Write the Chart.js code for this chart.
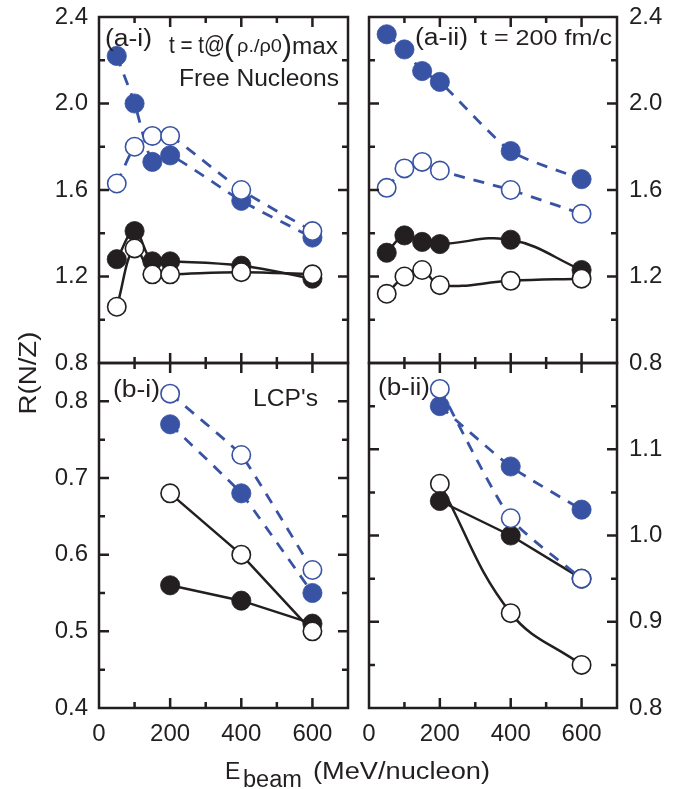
<!DOCTYPE html>
<html>
<head>
<meta charset="utf-8">
<script src="https://cdn.jsdelivr.net/npm/chart.js@4.4.1/dist/chart.umd.min.js"></script>
<style>
  html, body { margin: 0; padding: 0; background: #fff; }
  #stage { position: relative; width: 691px; height: 789px; overflow: hidden; }
  #stage canvas, #stage svg { position: absolute; left: 0; top: 0; }
  svg text { font-family: "Liberation Sans", Arial, sans-serif; fill: #231f20; }
</style>
</head>
<body>
<div id="stage">
  <canvas id="panel-ai" width="691" height="789"></canvas>
  <canvas id="panel-aii" width="691" height="789"></canvas>
  <canvas id="panel-bi" width="691" height="789"></canvas>
  <canvas id="panel-bii" width="691" height="789"></canvas>
  <svg width="691" height="789">
    <!-- panel tags -->
    <text x="105" y="46" font-size="23" textLength="47" lengthAdjust="spacingAndGlyphs">(a-i)</text>
    <text font-size="23">
      <tspan x="169" y="53" textLength="56" lengthAdjust="spacingAndGlyphs">t = t@</tspan><tspan x="224" y="56" font-size="30">(</tspan><tspan x="237" y="52" font-size="19" textLength="45" lengthAdjust="spacingAndGlyphs">ρ./ρ0</tspan><tspan x="282" y="56" font-size="30">)</tspan><tspan x="292" y="54" font-size="23" textLength="46" lengthAdjust="spacingAndGlyphs">max</tspan>
    </text>
    <text x="179" y="86" font-size="23" textLength="160" lengthAdjust="spacingAndGlyphs">Free Nucleons</text>
    <text x="415" y="45" font-size="23" textLength="53" lengthAdjust="spacingAndGlyphs">(a-ii)</text>
    <text x="480" y="45" font-size="22" textLength="132" lengthAdjust="spacingAndGlyphs">t = 200 fm/c</text>
    <text x="113" y="397" font-size="23" textLength="47" lengthAdjust="spacingAndGlyphs">(b-i)</text>
    <text x="253" y="406" font-size="23" textLength="65" lengthAdjust="spacingAndGlyphs">LCP's</text>
    <text x="378" y="395" font-size="23" textLength="52" lengthAdjust="spacingAndGlyphs">(b-ii)</text>
    <!-- axis titles -->
    <text transform="translate(36,373) rotate(-90)" text-anchor="middle" font-size="23" textLength="83" lengthAdjust="spacingAndGlyphs">R(N/Z)</text>
    <text x="225" y="779" font-size="23">E</text>
    <text x="243" y="787" font-size="23" textLength="59" lengthAdjust="spacingAndGlyphs">beam</text>
    <text x="313" y="779" font-size="23" textLength="177" lengthAdjust="spacingAndGlyphs">(MeV/nucleon)</text>
  </svg>
</div>
<script>
// beam energies, MeV/nucleon
const E_FREE = [50, 100, 150, 200, 400, 600];
const E_LCP = [200, 400, 600];

// (a-i) free nucleons at max compression
const aiBlueFilled  = [2.22, 2.00, 1.73, 1.76, 1.55, 1.38];
const aiBlueOpen    = [1.63, 1.80, 1.85, 1.85, 1.60, 1.41];
const aiBlackFilled = [1.28, 1.41, 1.27, 1.27, 1.25, 1.19];
const aiBlackOpen   = [1.06, 1.33, 1.21, 1.21, 1.22, 1.21];

// (a-ii) free nucleons at t = 200 fm/c
const aiiBlueFilled  = [2.32, 2.25, 2.15, 2.10, 1.78, 1.65];
const aiiBlueOpen    = [1.61, 1.70, 1.73, 1.69, 1.60, 1.49];
const aiiBlackFilled = [1.31, 1.39, 1.36, 1.35, 1.37, 1.23];
const aiiBlackOpen   = [1.12, 1.20, 1.23, 1.16, 1.18, 1.19];

// (b-i) LCP's
const biBlueOpen    = [0.81, 0.73, 0.58];
const biBlueFilled  = [0.77, 0.68, 0.55];
const biBlackOpen   = [0.68, 0.60, 0.50];
const biBlackFilled = [0.56, 0.54, 0.51];

// (b-ii)
const biiBlueOpen    = [1.17, 1.02, 0.95];
const biiBlueFilled  = [1.15, 1.08, 1.03];
const biiBlackOpen   = [1.06, 0.91, 0.85];
const biiBlackFilled = [1.04, 1.00, 0.95];

// axis ticks
const X_MAJOR = [0, 200, 400, 600];
const X_MINOR = [100, 300, 500];
const Y_TOP_MAJOR = [0.8, 1.2, 1.6, 2.0, 2.4];
const Y_TOP_MINOR = [1.0, 1.4, 1.8, 2.2];
const Y_BI_MAJOR = [0.4, 0.5, 0.6, 0.7, 0.8];
const Y_BI_MINOR = [0.45, 0.55, 0.65, 0.75];
const Y_BII_MAJOR = [0.8, 0.9, 1.0, 1.1, 1.2];
const Y_BII_MINOR = [0.85, 0.95, 1.05, 1.15];

const BLUE = '#3853a4';
const INK = '#231f20';
const TICK_FONT = { family: '"Liberation Sans", Arial, sans-serif', size: 24 };
const Y_AXIS_W = 60;   // room kept for y tick labels
const X_AXIS_H = 50;   // room kept for x tick labels

// frame box with inward ticks on all four sides
const frameTicks = {
    id: 'frameTicks',
    afterDraw(chart, args, opts) {
        const { ctx, chartArea: a } = chart;
        const { x, y } = chart.scales;
        ctx.save();
        ctx.strokeStyle = INK;
        ctx.lineWidth = 2.5;
        ctx.beginPath();
        const xt = (vals, len) => vals.forEach(v => {
            const px = x.getPixelForValue(v);
            if (px <= a.left + 1 || px >= a.right - 1) return;
            ctx.moveTo(px, a.bottom); ctx.lineTo(px, a.bottom - len);
            ctx.moveTo(px, a.top); ctx.lineTo(px, a.top + len);
        });
        const yt = (vals, len) => vals.forEach(v => {
            const py = y.getPixelForValue(v);
            if (py <= a.top + 1 || py >= a.bottom - 1) return;
            ctx.moveTo(a.left, py); ctx.lineTo(a.left + len, py);
            ctx.moveTo(a.right, py); ctx.lineTo(a.right - len, py);
        });
        xt(opts.xMajor, 10); xt(opts.xMinor, 6);
        yt(opts.yMajor, 10); yt(opts.yMinor, 6);
        ctx.stroke();
        ctx.strokeRect(a.left, a.top, a.right - a.left, a.bottom - a.top);
        ctx.restore();
    }
};

function series(xs, ys, kind, order, tension) {
    const blue = kind.startsWith('blue');
    const open = kind.endsWith('Open');
    const color = blue ? BLUE : INK;
    return {
        data: xs.map((x, i) => ({ x, y: ys[i] })),
        borderColor: color,
        borderWidth: blue ? 2.8 : 2.5,
        borderDash: blue ? [11, 9] : [],
        tension,
        pointRadius: open ? 9.2 : 9.6,
        pointBorderWidth: open ? 1.6 : 0.8,
        pointBackgroundColor: open ? '#fff' : color,
        pointBorderColor: color,
        order,
        clip: false
    };
}

// fixed scale boxes so the plot area lands where the layout padding says
function fixBox(size) {
    return s => {
        if (s.isHorizontal()) s.height = size; else s.width = size;
        s.paddingTop = s.paddingBottom = s.paddingLeft = s.paddingRight = 0;
    };
}

function panel(id, pad, yMin, yMax, yStep, yRight, showX, ticks, datasets, hideTop) {
    new Chart(document.getElementById(id), {
        type: 'line',
        data: { datasets },
        options: {
            responsive: false,
            devicePixelRatio: 1,
            animation: false,
            layout: { padding: pad },
            plugins: { legend: { display: false }, tooltip: { enabled: false }, frameTicks: ticks },
            scales: {
                x: {
                    type: 'linear', min: 0, max: 700,
                    grid: { display: false, drawTicks: false }, border: { display: false },
                    ticks: { display: showX, stepSize: 200, includeBounds: false, maxRotation: 0, padding: 12, color: INK, font: TICK_FONT },
                    afterFit: fixBox(showX ? X_AXIS_H : 0)
                },
                y: {
                    type: 'linear', position: yRight ? 'right' : 'left', min: yMin, max: yMax,
                    grid: { display: false, drawTicks: false }, border: { display: false },
                    ticks: {
                        stepSize: yStep, includeBounds: false, padding: yRight ? 12 : 11, color: INK, font: TICK_FONT,
                        callback: v => (hideTop && v > yMax - 1e-6) ? '' : v.toFixed(1)
                    },
                    afterFit: fixBox(Y_AXIS_W)
                }
            }
        },
        plugins: [frameTicks]
    });
}

// plot area edges: left column 99..348, right column 369..617, rows 17..363 and 363..708
const LEFT = { left: 99 - Y_AXIS_W, right: 691 - 348 };
const RIGHT = { left: 369, right: 691 - 617 - Y_AXIS_W };
const TOP = { top: 17, bottom: 789 - 363 };
const BOTTOM = { top: 363, bottom: 789 - 708 - X_AXIS_H };

panel('panel-ai', { ...LEFT, ...TOP }, 0.8, 2.4, 0.4, false, false,
    { xMajor: X_MAJOR, xMinor: X_MINOR, yMajor: Y_TOP_MAJOR, yMinor: Y_TOP_MINOR }, [
        series(E_FREE, aiBlackFilled, 'blackFilled', 3, 0.4),
        series(E_FREE, aiBlackOpen, 'blackOpen', 2, 0.4),
        series(E_FREE, aiBlueFilled, 'blueFilled', 1, 0.2),
        series(E_FREE, aiBlueOpen, 'blueOpen', 0, 0.2)
    ]);

panel('panel-aii', { ...RIGHT, ...TOP }, 0.8, 2.4, 0.4, true, false,
    { xMajor: X_MAJOR, xMinor: X_MINOR, yMajor: Y_TOP_MAJOR, yMinor: Y_TOP_MINOR }, [
        series(E_FREE, aiiBlackFilled, 'blackFilled', 3, 0.4),
        series(E_FREE, aiiBlackOpen, 'blackOpen', 2, 0.4),
        series(E_FREE, aiiBlueFilled, 'blueFilled', 1, 0.2),
        series(E_FREE, aiiBlueOpen, 'blueOpen', 0, 0.2)
    ]);

panel('panel-bi', { ...LEFT, ...BOTTOM }, 0.4, 0.85, 0.1, false, true,
    { xMajor: X_MAJOR, xMinor: X_MINOR, yMajor: Y_BI_MAJOR, yMinor: Y_BI_MINOR }, [
        series(E_LCP, biBlackFilled, 'blackFilled', 3, 0),
        series(E_LCP, biBlackOpen, 'blackOpen', 2, 0),
        series(E_LCP, biBlueFilled, 'blueFilled', 1, 0.1),
        series(E_LCP, biBlueOpen, 'blueOpen', 0, 0.1)
    ]);

panel('panel-bii', { ...RIGHT, ...BOTTOM }, 0.8, 1.2, 0.1, true, true,
    { xMajor: X_MAJOR, xMinor: X_MINOR, yMajor: Y_BII_MAJOR, yMinor: Y_BII_MINOR }, [
        series(E_LCP, biiBlackFilled, 'blackFilled', 2, 0),
        series(E_LCP, biiBlackOpen, 'blackOpen', 3, 0.4),
        series(E_LCP, biiBlueFilled, 'blueFilled', 1, 0.2),
        series(E_LCP, biiBlueOpen, 'blueOpen', 0, 0.2)
    ], true);
</script>
</body>
</html>
